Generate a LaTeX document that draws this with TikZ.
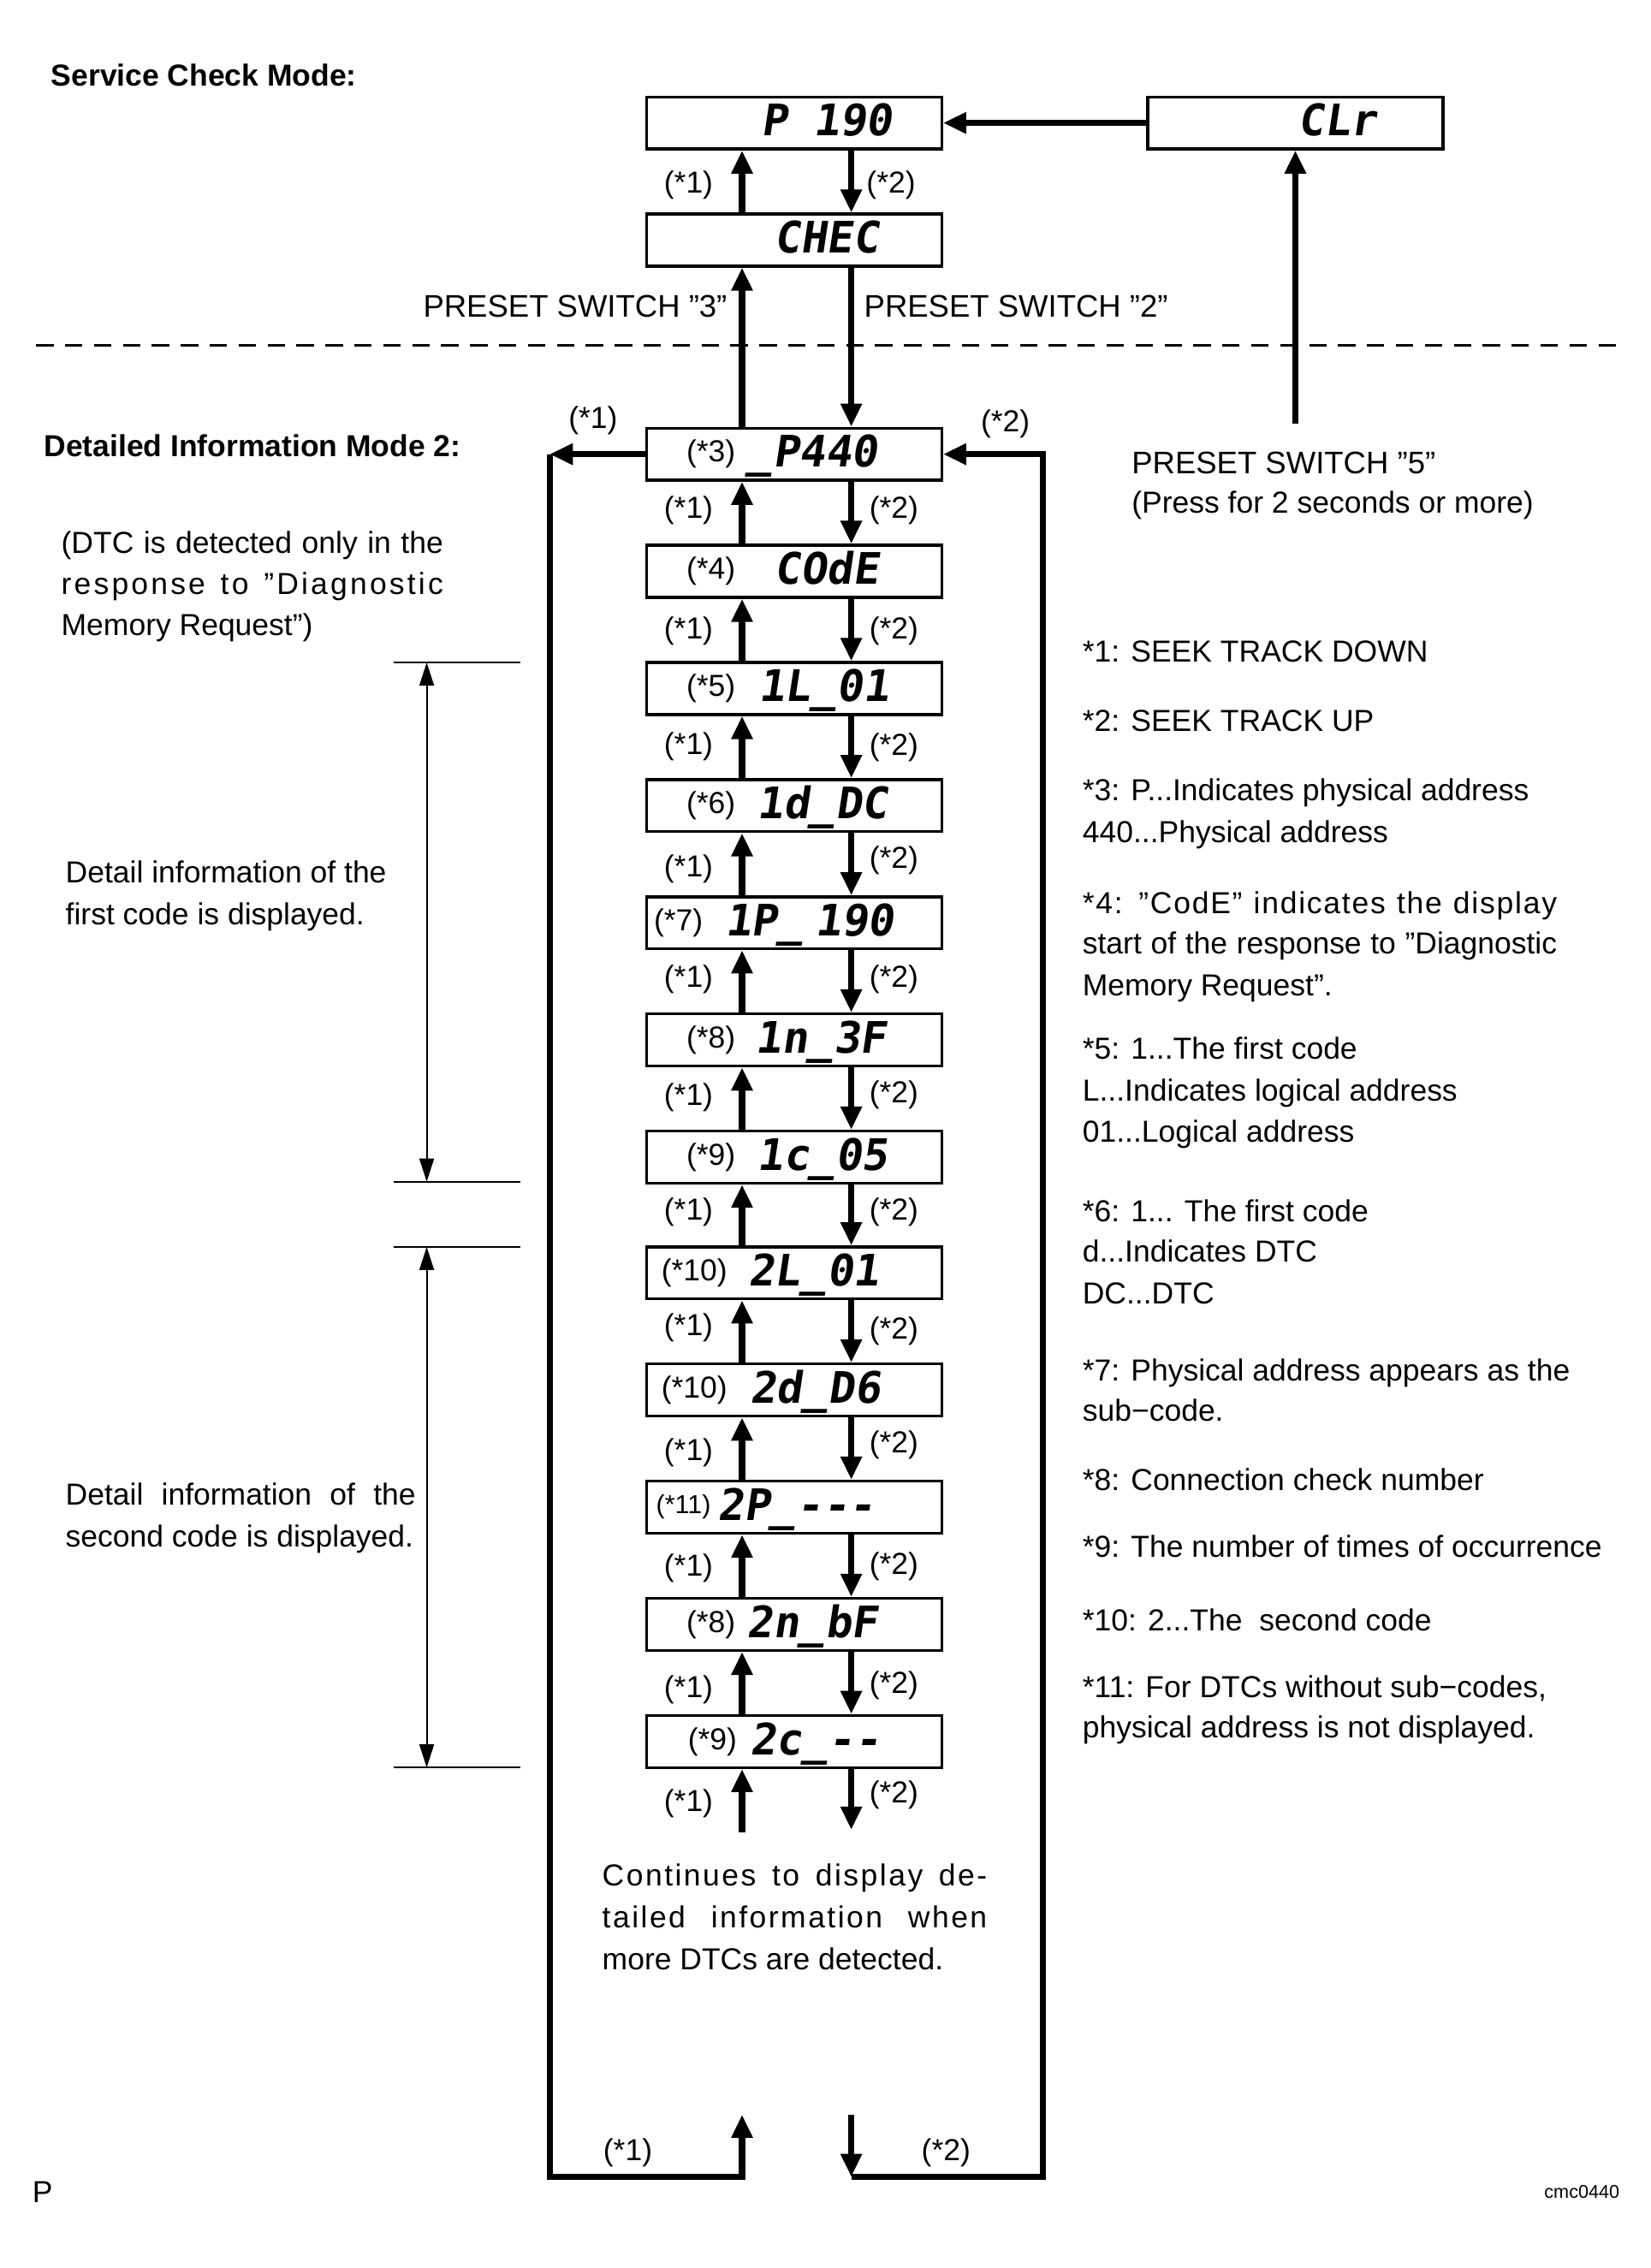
\documentclass[tikz,border=0pt]{standalone}
\usepackage{fontspec}
\setmainfont{Liberation Sans}
\newfontfamily\segfont{DejaVu Sans Mono}[FakeSlant=0.15]
\usetikzlibrary{arrows.meta}
\tikzset{
  box/.style={draw, line width=1pt, minimum width=102pt, minimum height=18pt, inner sep=0pt},
  code/.style={anchor=base west, inner sep=0pt, font=\segfont\bfseries\fontsize{15}{15}\selectfont},
  lbl/.style={inner sep=0pt, font=\fontsize{10.5}{12}\selectfont},
  txt/.style={anchor=base west, inner sep=0pt, font=\fontsize{10.5}{12}\selectfont},
  head/.style={anchor=base west, inner sep=0pt, font=\bfseries\fontsize{10.5}{12}\selectfont},
  arr/.style={line width=2.2pt, -{Triangle[width=7pt,length=8pt]}},
  tick/.style={line width=0.6pt},
  dbl/.style={line width=0.6pt, {Triangle[width=5pt,length=8pt]}-{Triangle[width=5pt,length=8pt]}},
  dashline/.style={line width=0.9pt, dash pattern=on 6pt off 4pt},
}
\begin{document}
\begin{tikzpicture}[x=0.5pt,y=-0.5pt]
\useasboundingbox (0,0) rectangle (1141,1568);
\fill[white] (0,0) rectangle (1141,1568);

% headings
\node[head] (h1) at (35,59.5) {Service Check Mode:};
\node[head] (h2) at (30,315.5) {Detailed Information Mode 2:};

% column coordinates
\coordinate (cu) at (513,0);
\coordinate (cd) at (588.5,0);

% top boxes
\node[box] (p190) at (549,85) {};
\node[box] (clr) at (895.5,85) {};
\node[box] (chec) at (549,166) {};
\node[code] (tp190) at (526,94) {P 190};
\node[code] (tclr) at (897,94) {CLr};
\node[code] (tchec) at (535,175) {CHEC};

% dashed separator
\coordinate (d1) at (25,239);
\coordinate (d2) at (1118,239);
\draw[dashline] (d1) -- (d2);

% list boxes
\foreach \i/\y in {1/314,2/395,3/476,4/557,5/638,6/719,7/800,8/880,9/961,10/1042,11/1123,12/1204}{
  \node[box] (r\i) at (549,\y) {};
}

% labels inside boxes
\node[lbl] (n3) at (491.5,314) {(*3)};
\node[lbl] (n4) at (491.5,395) {(*4)};
\node[lbl] (n5) at (491.5,476) {(*5)};
\node[lbl] (n6) at (491.5,557) {(*6)};
\node[lbl] (n7) at (469,638) {(*7)};
\node[lbl] (n8) at (491.5,719) {(*8)};
\node[lbl] (n9) at (491.5,800) {(*9)};
\node[lbl] (n10a) at (480,880) {(*10)};
\node[lbl] (n10b) at (480,961) {(*10)};
\node[lbl, font=\fontsize{9}{10}\selectfont] (n11) at (472.5,1042) {(*11)};
\node[lbl] (n8b) at (491.5,1123) {(*8)};
\node[lbl] (n9b) at (492.5,1204) {(*9)};

% display codes (baseline = centre + 9)
\node[code] (c1) at (516,323) {\_P440};
\node[code] (c2) at (535,404) {COdE};
\node[code] (c3) at (524,485) {1L\_01};
\node[code] (c4) at (523,566) {1d\_DC};
\node[code] (c5) at (501,647) {1P\_\kern-5pt\ 190};
\node[code] (c6) at (522,728) {1n\_3F};
\node[code] (c7) at (523,809) {1c\_05};
\node[code] (c8) at (517,889) {2L\_01};
\node[code] (c9) at (518,970) {2d\_D6};
\node[code] (c10) at (496,1051) {2P\_-\kern0pt-\kern0pt-};
\node[code] (c11) at (516,1132) {2n\_bF};
\node[code] (c12) at (518,1213) {2c\_-\kern0pt-};

% top arrows
\draw[arr] (clr.west) -- (p190.east);
\draw[arr] (chec.north -| cu) -- (p190.south -| cu);
\draw[arr] (p190.south -| cd) -- (chec.north -| cd);
\draw[arr] (r1.north -| cu) -- (chec.south -| cu);
\draw[arr] (chec.south -| cd) -- (r1.north -| cd);
\coordinate (s5) at (895.5,293);
\draw[arr] (s5) -- (clr.south);
\node[lbl] (t1) at (476,128) {(*1)};
\node[lbl] (t2) at (616,128) {(*2)};

% arrows between list boxes
\foreach \a/\b in {1/2,2/3,3/4,4/5,5/6,6/7,7/8,8/9,9/10,10/11,11/12}{
  \draw[arr] (r\b.north -| cu) -- (r\a.south -| cu);
  \draw[arr] (r\a.south -| cd) -- (r\b.north -| cd);
}
% gap labels
\foreach \y/\p/\q [count=\k] in {314/39/39,395/41/41,476/40/41,557/44/38,638/39/39,719/40/38,800/38/38,880/38/40,961/43/38,1042/42/41,1123/45/42,1204/43/37}{
  \node[lbl] (ga\k) at (476,{\y+\p}) {(*1)};
  \node[lbl] (gb\k) at (618,{\y+\q}) {(*2)};
}

% arrows below last box
\coordinate (e1) at (513,1267);
\coordinate (e2) at (588.5,1265);
\draw[arr] (e1) -- (r12.south -| cu);
\draw[arr] (r12.south -| cd) -- (e2);

% left loop
\coordinate (L1) at (380,314);
\coordinate (L2) at (380,1505);
\coordinate (L3) at (513,1505);
\coordinate (L4) at (513,1462);
\draw[arr] (r1.west) -- (L1);
\draw[arr] (L1) -- (L2) -- (L3) -- (L4);
% right loop
\coordinate (R1) at (588.5,1462);
\coordinate (R2) at (588.5,1505);
\coordinate (R3) at (721,1505);
\coordinate (R4) at (721,314);
\draw[arr] (R1) -- (R2);
\draw[arr] (R2) -- (R3) -- (R4) -- (r1.east);
\node[lbl] (lt1) at (410,291) {(*1)};
\node[lbl] (lt2) at (695,293) {(*2)};
\node[lbl] (lb1) at (434,1488) {(*1)};
\node[lbl] (lb2) at (654,1488) {(*2)};

% brackets
\coordinate (b1a) at (272,458); \coordinate (b1b) at (360,458);
\coordinate (b1c) at (272,817); \coordinate (b1d) at (360,817);
\coordinate (b1u) at (295,458); \coordinate (b1l) at (295,817);
\draw[tick] (b1a) -- (b1b);
\draw[tick] (b1c) -- (b1d);
\draw[dbl] (b1u) -- (b1l);
\coordinate (b2a) at (272,862); \coordinate (b2b) at (360,862);
\coordinate (b2c) at (272,1222); \coordinate (b2d) at (360,1222);
\coordinate (b2u) at (295,862); \coordinate (b2l) at (295,1222);
\draw[tick] (b2a) -- (b2b);
\draw[tick] (b2c) -- (b2d);
\draw[dbl] (b2u) -- (b2l);

% preset switch texts
\node[txt, anchor=base east, font=\fontsize{10.8}{12}\selectfont] (ps3) at (503,219.5) {PRESET SWITCH ”3”};
\node[txt, font=\fontsize{10.8}{12}\selectfont] (ps2) at (597,219.5) {PRESET SWITCH ”2”};
\node[txt, font=\fontsize{10.8}{12}\selectfont] (ps5) at (782,327.5) {PRESET SWITCH ”5”};
\node[txt] (ps5b) at (782,355) {(Press for 2 seconds or more)};

% left texts
\node[txt] (dt1) at (42,382.5) {\makebox[132pt][s]{(DTC is detected only in the}};
\node[txt] (dt2) at (42,411) {\makebox[132pt][s]{\addfontfeature{LetterSpace=9}response to ”Diagnostic}};
\node[txt] (dt3) at (42,439.5) {Memory Request”)};
\node[txt] (fc1) at (45,610.5) {Detail information of the};
\node[txt] (fc2) at (45,639.5) {first code is displayed.};
\node[txt] (sc1) at (45,1040.5) {\makebox[121pt][s]{Detail information of the}};
\node[txt] (sc2) at (45,1069.5) {second code is displayed.};

% continues text
\node[txt] (ct1) at (416,1303.5) {\makebox[133pt][s]{\addfontfeature{LetterSpace=7}Continues to display de-}};
\node[txt] (ct2) at (416,1332.5) {\makebox[133pt][s]{\addfontfeature{LetterSpace=7}tailed information when}};
\node[txt] (ct3) at (416,1361.5) {more DTCs are detected.};

% notes
\node[txt] (k1) at (748,457.5) {*1: SEEK TRACK DOWN};
\node[txt] (k2) at (748,505.5) {*2: SEEK TRACK UP};
\node[txt] (k3a) at (748,553.5) {*3: P...Indicates physical address};
\node[txt] (k3b) at (748,582.5) {440...Physical address};
\node[txt] (k4a) at (748,631.5) {\makebox[164pt][s]{\addfontfeature{LetterSpace=5}*4: ”CodE” indicates the display}};
\node[txt] (k4b) at (748,659.5) {\makebox[164pt][s]{start of the response to ”Diagnostic}};
\node[txt] (k4c) at (748,688.5) {Memory Request”.};
\node[txt] (k5a) at (748,732.5) {*5: 1...The first code};
\node[txt] (k5b) at (748,761.5) {L...Indicates logical address};
\node[txt] (k5c) at (748,789.5) {01...Logical address};
\node[txt] (k6a) at (748,844.5) {*6: 1... The first code};
\node[txt] (k6b) at (748,872.5) {d...Indicates DTC};
\node[txt] (k6c) at (748,901.5) {DC...DTC};
\node[txt] (k7a) at (748,954.5) {*7: Physical address appears as the};
\node[txt] (k7b) at (748,982.5) {sub−code.};
\node[txt] (k8) at (748,1030.5) {*8: Connection check number};
\node[txt] (k9) at (748,1076.5) {*9: The number of times of occurrence};
\node[txt] (k10) at (748,1127.5) {*10: 2...The\ \ second code};
\node[txt] (k11a) at (748,1173.5) {*11: For DTCs without sub−codes,};
\node[txt] (k11b) at (748,1201.5) {physical address is not displayed.};

% corner marks
\node[txt] (cp) at (22,1523) {P};
\node[txt, anchor=base east, font=\fontsize{6.4}{7}\selectfont] (cm) at (1120,1520) {cmc0440};
\end{tikzpicture}
\end{document}
